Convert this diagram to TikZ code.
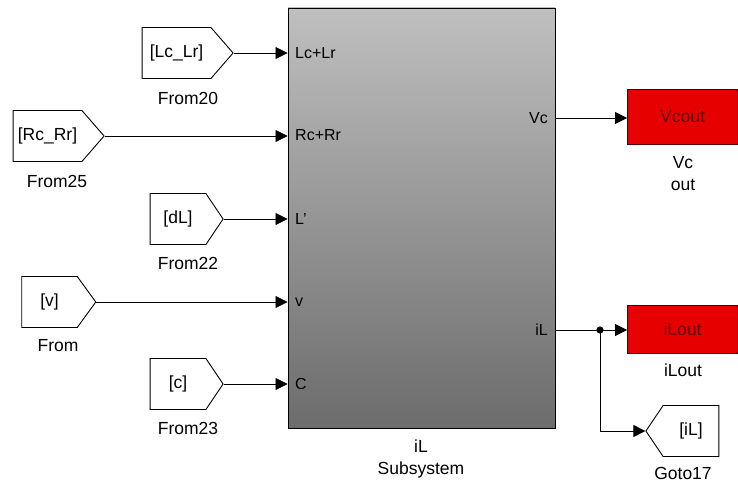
\documentclass[tikz,border=0pt]{standalone}
\usepackage{fontspec}
\setmainfont{Liberation Sans}
\usetikzlibrary{arrows.meta,shapes.symbols}
\definecolor{sstop}{RGB}{191,191,191}
\definecolor{ssmid}{RGB}{174,174,174}
\definecolor{ssbot}{RGB}{108,108,108}
\definecolor{outred}{RGB}{230,0,0}
\definecolor{outtext}{RGB}{100,0,0}

\begin{document}
\begin{tikzpicture}[x=1pt,y=-1pt,>={Triangle[length=12pt,width=12pt]},
  every node/.style={font=\fontsize{17.5}{21}\selectfont},
  wire/.style={line width=0.8pt},
  frm/.style={signal,signal to=east,draw,line width=0.9pt,fill=white,minimum height=51pt,inner sep=0pt},
  gto/.style={signal,signal to=west,draw,line width=0.9pt,fill=white,minimum height=51pt,inner sep=0pt},
  outblk/.style={draw=black!70!red,line width=0.9pt,fill=outred,text=outtext,minimum width=110pt,inner sep=0pt},
  port/.style={font=\fontsize{16}{19}\selectfont,inner sep=0pt},
  lbl/.style={align=center,inner sep=0pt}]
\useasboundingbox (0,0) rectangle (738,487);
% subsystem
\node[draw,line width=0.9pt,top color=sstop,middle color=ssmid,bottom color=ssbot,
  minimum width=267pt,minimum height=420pt,inner sep=0pt] (sub) at (421.5,218) {};
\node[port,anchor=west] (plclr) at (295,53) {Lc+Lr};
\node[port,anchor=west] (prcrr) at (295,135) {Rc+Rr};
\node[port,anchor=west] (pdl) at (295,219) {L{\char39}};
\node[port,anchor=west] (pv) at (295,302) {v};
\node[port,anchor=west] (pc) at (295,384) {C};
\node[port,anchor=east] (pvc) at (548,118) {Vc};
\node[port,anchor=east] (pil) at (548,330) {iL};
\node[lbl] (subname) at (421,459) {iL\\[1pt]Subsystem};
% from blocks
\node[frm,minimum width=91pt,signal pointer angle=98] (f20) at (176.5,53) {[Lc\_Lr]};
\node[frm,minimum width=91pt,signal pointer angle=98] (f25) at (47.5,136) {[Rc\_Rr]};
\node[frm,minimum width=73pt,signal pointer angle=112] (f22) at (178,219) {[dL]};
\node[frm,minimum width=74pt,signal pointer angle=108] (f0) at (49.5,302) {[v]};
\node[frm,minimum width=73pt,signal pointer angle=112] (f23) at (178,384) {[c]};
\node[lbl] (f20n) at (188,98) {From20};
\node[lbl] (f25n) at (57,181) {From25};
\node[lbl] (f22n) at (188,263) {From22};
\node[lbl] (f0n) at (58,346) {From};
\node[lbl] (f23n) at (188,428) {From23};
% outputs
\node[outblk,minimum height=55pt] (vcout) at (682.5,117) {Vcout};
\node[lbl] (vcoutn) at (683,174) {Vc\\[1pt]out};
\node[outblk,minimum height=48pt] (ilout) at (682.5,329) {iLout};
\node[lbl] (iloutn) at (683,370) {iLout};
\node[gto,minimum width=73pt,signal pointer angle=112] (g17) at (691,431) {[iL]};
\node[lbl] (g17n) at (683,473) {Goto17};
% wires
\coordinate (sv1) at (sub.west |- f20.east);
\coordinate (sv2) at (sub.west |- f25.east);
\coordinate (sv3) at (sub.west |- f22.east);
\coordinate (sv4) at (sub.west |- f0.east);
\coordinate (sv5) at (sub.west |- f23.east);
\draw[wire,->] (f20.east) -- (sv1);
\draw[wire,->] (f25.east) -- (sv2);
\draw[wire,->] (f22.east) -- (sv3);
\draw[wire,->] (f0.east) -- (sv4);
\draw[wire,->] (f23.east) -- (sv5);
\coordinate (so1) at (sub.east |- pvc);
\coordinate (so2) at (sub.east |- pil);
\draw[wire,->] (so1) -- (vcout.west |- so1);
\coordinate (br) at (600,330);
\draw[wire,->] (so2) -- (ilout.west |- so2);
\draw[wire,->] (br) |- (g17.west);
\fill (br) circle (3.6pt);
\end{tikzpicture}
\end{document}
